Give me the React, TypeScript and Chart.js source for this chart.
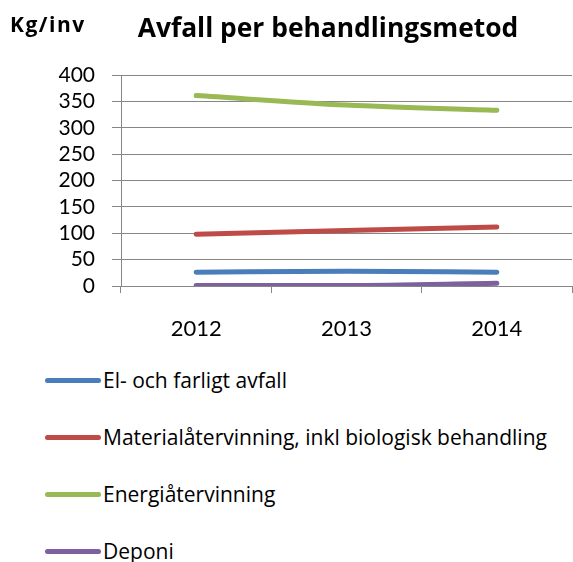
import React, { useEffect, useRef } from "react";
import { Chart, registerables } from "chart.js";

Chart.register(...registerables);

const categories = ["2012", "2013", "2014"];
const seriesNames = [
  "El- och farligt avfall",
  "Materialåtervinning, inkl biologisk behandling",
  "Energiåtervinning",
  "Deponi",
];
const elOchFarligt = [26, 28, 26];
const materialatervinning = [98, 105, 112];
const energiatervinning = [361, 343, 333];
const deponi = [1, 1, 5];
const seriesColors = ["#4A7EBB", "#BE4B48", "#98B954", "#7D60A0"];
const yTicks = [0, 50, 100, 150, 200, 250, 300, 350, 400];

const FONT = "Lato, 'Open Sans', sans-serif";
const TEXT_FONT = "'Open Sans', Lato, sans-serif";
const W = 573;
const H = 562;
const CANVAS_H = 350;

export default function App() {
  const ref = useRef<HTMLCanvasElement | null>(null);

  useEffect(() => {
    document.body.style.margin = "0";
    const canvas = ref.current;
    if (!canvas) return;
    const values = [elOchFarligt, materialatervinning, energiatervinning, deponi];
    const chart = new Chart(canvas, {
      type: "line",
      data: {
        labels: categories,
        datasets: seriesNames.map((name, i) => ({
          label: name,
          data: values[i],
          borderColor: seriesColors[i],
          backgroundColor: seriesColors[i],
          borderWidth: 5,
          borderCapStyle: "round",
          pointRadius: 0,
          tension: 0.4,
          cubicInterpolationMode: "monotone",
          fill: false,
        })),
      },
      options: {
        responsive: false,
        animation: false,
        layout: { padding: { top: 75, right: 1, left: 0, bottom: 0 } },
        plugins: {
          legend: { display: false },
          title: { display: false },
          tooltip: { enabled: false },
        },
        scales: {
          x: {
            type: "category",
            offset: true,
            grid: {
              display: true,
              offset: true,
              drawOnChartArea: false,
              drawTicks: true,
              tickLength: 7,
              color: "#868686",
            },
            border: { display: true, color: "#868686", width: 1 },
            ticks: {
              color: "#000",
              font: { family: FONT, size: 22 },
              padding: 23,
              maxRotation: 0,
            },
            afterFit: (scale: any) => {
              scale.height = CANVAS_H - 286;
            },
          },
          y: {
            min: 0,
            max: 400,
            afterBuildTicks: (scale: any) => {
              scale.ticks = yTicks.map((v) => ({ value: v }));
            },
            grid: {
              color: "#868686",
              lineWidth: 1,
              drawTicks: true,
              tickLength: 9,
            },
            border: { display: true, color: "#868686", width: 1 },
            ticks: {
              color: "#000",
              font: { family: FONT, size: 21 },
              padding: 17,
              autoSkip: false,
            },
            afterFit: (scale: any) => {
              scale.width = 121;
            },
          },
        },
      },
    });
    return () => chart.destroy();
  }, []);

  const legendRows = [380, 437, 494, 551];

  return (
    <div style={{ position: "absolute", left: 0, top: 0, width: W, height: H, background: "#fff" }}>
      <canvas ref={ref} width={W} height={CANVAS_H} style={{ position: "absolute", left: 0, top: 0, width: W, height: CANVAS_H }} />
      <div style={{ position: "absolute", left: 10, top: 11, fontFamily: TEXT_FONT, fontWeight: 700, fontSize: 21, letterSpacing: "1.5px", lineHeight: "26px", color: "#000" }}>Kg/inv</div>
      <div style={{ position: "absolute", left: 28, width: 600, top: 11, textAlign: "center", fontFamily: TEXT_FONT, fontWeight: 700, fontSize: 26.4, lineHeight: "32px", color: "#000", whiteSpace: "nowrap" }}>
        Avfall per behandlingsmetod
      </div>
      {seriesNames.map((name, i) => (
        <div key={name} style={{ position: "absolute", left: 45, top: legendRows[i] - 15, height: 30, display: "flex", alignItems: "center", whiteSpace: "nowrap" }}>
          <div style={{ width: 56, height: 5, borderRadius: 3, background: seriesColors[i], marginRight: 2 }} />
          <span style={{ fontFamily: TEXT_FONT, fontSize: 21, color: "#000" }}>{name}</span>
        </div>
      ))}
    </div>
  );
}
